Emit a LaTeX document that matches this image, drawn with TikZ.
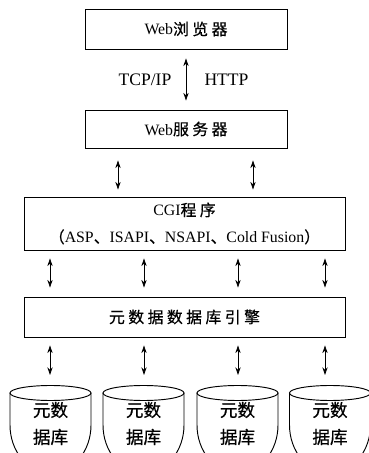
\documentclass[tikz,border=0pt]{standalone}
\usepackage{fontspec}
\setmainfont{Liberation Serif}
\newfontfamily\cjk[LetterSpace=22,FakeBold=0.6]{Noto Sans CJK SC}
\newfontfamily\cjkdb[FakeBold=0.6]{Noto Sans CJK SC}
\newcommand{\zh}[1]{{\cjk #1}}
\usetikzlibrary{calc,positioning,arrows,arrows.meta}

\begin{document}
\begin{tikzpicture}[x=0.03cm,y=0.03cm,
    box/.style={draw,rectangle,line width=0.8pt,inner sep=0pt,font=\fontsize{13.5}{16}\selectfont},
    link/.style={{Stealth[length=6.5pt,width=4.5pt]}-{Stealth[length=6.5pt,width=4.5pt]},line width=0.7pt,shorten <=0.27cm,shorten >=0.27cm},
    dbline/.style={line width=0.8pt},
    dbtext/.style={align=center,font=\cjkdb\fontsize{15}{23}\selectfont}]

  \useasboundingbox (0,0) rectangle (369,453);
  \clip (0,0) rectangle (369,453);

  % boxes
  \node [box,minimum width=6.06cm,minimum height=1.2cm] at(186,424) (browser) {Web\zh{浏览器}};
  \node [box,minimum width=6.06cm,minimum height=1.14cm] at(186,324) (server) {Web\zh{服务器}};
  \node [box,minimum width=9.63cm,minimum height=1.59cm,align=center,font=\fontsize{13.5}{23}\selectfont] at(184.5,229.5) (cgi)
    {CGI\zh{程序}\\\zh{（}ASP\zh{、}ISAPI\zh{、}NSAPI\zh{、}Cold Fusion\zh{）}};
  \node [box,minimum width=9.63cm,minimum height=1.2cm] at(184.5,136) (engine) {\zh{元数据数据库引擎}};

  % browser <-> server
  \draw [link] (browser.south) -- (server.north);
  \node [font=\fontsize{15}{18}\selectfont] at(145,373) (tcp) {TCP/IP};
  \node [font=\fontsize{15}{18}\selectfont] at(226.5,373) (http) {HTTP};

  % server <-> cgi
  \foreach \x [count=\n] in {118,253}{
    \coordinate (up\n) at (\x,0);
    \draw [link,shorten <=0.36cm,shorten >=0.21cm] (server.south -| up\n) -- (cgi.north -| up\n);
  }

  % cgi <-> engine <-> databases
  \foreach \x [count=\n] in {50,144,238,325}{
    \coordinate (col\n) at (\x,68);
    \draw [link,shorten <=0.24cm,shorten >=0.27cm] (cgi.south -| col\n) -- (engine.north -| col\n);
    \draw [link,shorten <=0.24cm,shorten >=0.3cm] (engine.south -| col\n) -- (col\n);
  }

  % databases
  \foreach \xc [count=\n] in {50.5,143.5,237.5,330}{
    \draw [dbline] (\xc,60) ellipse [x radius=40.5,y radius=7.5];
    \draw [dbline] (\xc-40.5,60) -- (\xc-40.5,28) arc [start angle=180,end angle=360,x radius=40.5,y radius=48] -- (\xc+40.5,60);
    \node [dbtext] at(\xc,29.5) (db\n) {元数\\据库};
  }
\end{tikzpicture}
\end{document}
